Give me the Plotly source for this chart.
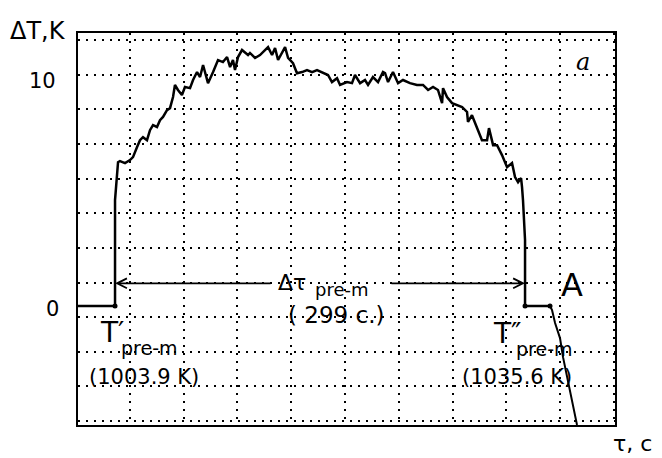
import plotly.graph_objects as go

# Main trace: time (s) and temperature difference (K)
tau = [0, 27.0, 27.0, 28.4, 29.2, 30.6, 34.3, 37.9, 40.1, 43.0, 45.2, 47.4, 50.3, 52.5, 54.7,
       57.6, 59.8, 62.0, 64.9, 67.1, 69.3, 70.7, 72.9, 75.8, 78.0, 81.7, 83.9, 86.8, 89.0,
       91.2, 94.8, 98.5, 102.1, 105.7, 108.7, 110.9, 113.0, 114.5, 116.7, 119.6, 121.8,
       124.0, 125.4, 129.1, 132.7, 136.4, 138.6, 141.5, 143.7, 145.9, 148.8, 151.0, 153.2,
       156.8, 159.7, 163.4, 167.0, 170.7, 174.3, 178.7, 182.3, 185.2, 188.9, 191.1, 196.2,
       199.8, 202.0, 205.7, 209.3, 211.5, 215.1, 218.8, 222.4, 223.9, 226.1, 229.7, 233.4,
       237.0, 242.1, 247.2, 251.6, 255.3, 258.9, 262.5, 265.5, 266.2, 269.1, 272.8, 276.4,
       280.1, 283.7, 284.4, 287.3, 291.0, 294.6, 298.3, 299.7, 302.7, 305.6, 309.2, 312.9,
       316.5, 318.7, 320.9, 323.1, 323.8, 324.5, 326.0, 326.0, 344.2]
dT = [0, 0, 4.67, 5.55, 6.34, 6.39, 6.30, 6.43, 6.56, 7.00, 7.31, 7.44, 7.31, 7.75, 7.97,
      7.89, 8.19, 8.33, 8.63, 8.72, 9.21, 9.74, 9.52, 9.30, 9.65, 9.60, 9.96, 10.31, 10.09,
      10.62, 9.82, 10.31, 10.84, 10.75, 10.97, 10.53, 10.84, 10.40, 10.97, 11.28, 11.19,
      11.06, 11.15, 10.93, 11.06, 11.28, 11.41, 11.06, 11.37, 10.84, 11.15, 11.41, 10.93,
      10.70, 10.26, 10.31, 10.40, 10.31, 10.40, 10.26, 10.18, 9.87, 10.04, 9.74, 9.87,
      9.82, 10.18, 9.82, 9.96, 9.74, 10.09, 9.87, 10.31, 10.26, 9.87, 10.31, 9.82,
      9.96, 9.82, 9.74, 9.74, 9.52, 9.65, 9.52, 8.94, 9.60, 9.21, 8.94, 8.85,
      8.77, 8.55, 8.11, 8.41, 7.89, 7.31, 7.31, 7.84, 7.09, 7.09, 6.65, 6.12,
      6.30, 5.68, 5.46, 5.64, 5.24, 4.67, 2.91, 0, 0]

# Curve after point A
tau_tail = [344.2, 345.7, 347.9, 351.5, 353.7, 356.6, 360.3, 363.9]
dT_tail = [0, -0.18, -0.75, -1.41, -2.25, -3.13, -4.14, -5.24]

# Marked points
tau_marks = [27.0, 326.0, 344.2]
dT_marks = [0, 0, 0]

# Interval annotation
tau_start, tau_end = 27.0, 326.0
arrow_level = 1.0

font_main = "DejaVu Sans"
ink = "black"

fig = go.Figure()
fig.add_trace(go.Scatter(x=tau, y=dT, mode="lines",
                         line=dict(color=ink, width=2.5), hoverinfo="skip"))
fig.add_trace(go.Scatter(x=tau_tail, y=dT_tail, mode="lines",
                         line=dict(color=ink, width=2), hoverinfo="skip"))
fig.add_trace(go.Scatter(x=tau_marks, y=dT_marks, mode="markers",
                         marker=dict(color=ink, size=5), hoverinfo="skip"))

grid_dash = "2px,6px"
fig.update_xaxes(range=[0, 391.6], showgrid=True, gridcolor=ink, gridwidth=1.6,
                 griddash=grid_dash, tick0=37.9, dtick=39.2, showticklabels=False,
                 ticks="", zeroline=False, showline=True, mirror=True,
                 linecolor=ink, linewidth=2)
fig.update_yaxes(range=[-5.24, 12.03], showgrid=True, gridcolor=ink, gridwidth=1.6,
                 griddash=grid_dash, tick0=1.035, dtick=1.526, showticklabels=False,
                 ticks="", zeroline=False, showline=True, mirror=True,
                 linecolor=ink, linewidth=2)

ann = []
def txt(x, y, s, size, xref="x", yref="y", family=font_main):
    ann.append(dict(x=x, y=y, xref=xref, yref=yref, text=s, showarrow=False,
                    font=dict(family=family, size=size, color=ink),
                    xanchor="center", yanchor="middle"))

# axis texts
txt(-0.0745, 1.005, "ΔT,K", 24, xref="paper", yref="paper")
txt(-0.067, 9.9, "10", 21, xref="paper")
txt(-0.047, -0.13, "0", 21, xref="paper")
txt(1.0335, -0.048, "τ, c", 22, xref="paper", yref="paper")

# in-plot labels
txt(368.3, 10.75, "<i>a</i>", 24, family="DejaVu Serif")
txt(360.3, 0.93, "A", 32)
txt(156.0, 1.05, "Δτ", 22)
txt(192.5, 0.75, "pre-m", 18)
txt(188.2, -0.40, "( 299 c.)", 23)
txt(25.0, -1.15, "T′", 28)
txt(52.5, -1.85, "pre-m", 19)
txt(48.1, -3.12, "(1003.9 K)", 21)
txt(313.5, -1.2, "T″", 28)
txt(340.0, -1.9, "pre-m", 19)
txt(320.2, -3.12, "(1035.6 K)", 21)

# arrows for the interval
for tip, tail in [(tau_start, 141.5), (tau_end, 227.5)]:
    ann.append(dict(x=tip, y=arrow_level, ax=tail, ay=arrow_level, xref="x", yref="y",
                    axref="x", ayref="y", showarrow=True, arrowhead=5, arrowsize=1.2,
                    arrowwidth=1.6, arrowcolor=ink, text=""))

fig.update_layout(width=662, height=458, margin=dict(l=78, r=47, t=33, b=33),
                  paper_bgcolor="white", plot_bgcolor="white", showlegend=False,
                  annotations=ann)

fig.write_html("out.html", config={"displayModeBar": False},
               post_script="document.body.style.margin='0';")
